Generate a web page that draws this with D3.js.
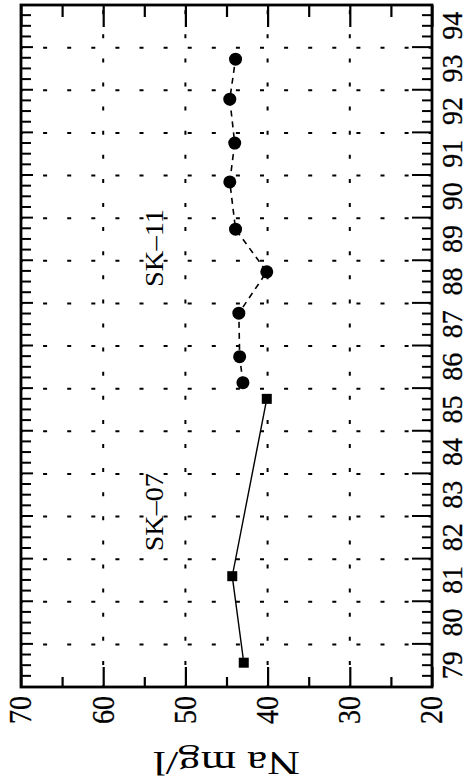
<!DOCTYPE html>
<html>
<head>
<meta charset="utf-8">
<script src="https://cdn.jsdelivr.net/npm/d3@7/dist/d3.min.js"></script>
<style>
  html, body { margin: 0; padding: 0; background: #fff; }
  svg { display: block; }
  text { font-family: "Liberation Serif", "DejaVu Serif", serif; fill: #000; }
</style>
</head>
<body>
<svg id="chart" width="472" height="781"></svg>
<script>
// Sodium in two wells, sampled by decimal year (19xx)
const sk07Years = [79.57, 81.60, 85.76];
const sk07Na    = [42.9, 44.3, 40.1];
const sk11Years = [86.14, 86.75, 87.77, 88.74, 89.74, 90.85, 91.76, 92.79, 93.73];
const sk11Na    = [43.0, 43.4, 43.5, 40.1, 43.9, 44.6, 44.0, 44.6, 43.9];

const yearLabels = ["79","80","81","82","83","84","85","86","87","88","89","90","91","92","93","94"];
const naTickValues = [20, 30, 40, 50, 60, 70];
const axisTitle = "Na mg/l";
const seriesNames = ["SK\u201307", "SK\u201311"];

// The page is laid out as an ordinary time chart and then turned a quarter
// turn counter-clockwise, so time runs up the page and Na runs right-to-left.
const svg = d3.select("#chart");
const g = svg.append("g").attr("transform", "translate(0,781) rotate(-90)");

const x = d3.scaleLinear().domain([79, 95]).range([94, 776]);
const y = d3.scaleLinear().domain([20, 70]).range([432, 21]);

const [x0, x1] = x.range();
const [yB, yT] = y.range();

// dotted grid
const dash = "4 20.1";
const grid = g.append("g").attr("stroke", "#000").attr("stroke-width", 2);
grid.selectAll("line.yr")
  .data(d3.range(80, 95))
  .join("line")
  .attr("x1", d => x(d)).attr("x2", d => x(d))
  .attr("y1", yT).attr("y2", yB)
  .attr("stroke-dasharray", dash)
  .attr("stroke-dashoffset", 2);
grid.selectAll("line.na")
  .data([30, 40, 50, 60])
  .join("line")
  .attr("x1", x0).attr("x2", x1)
  .attr("y1", d => y(d)).attr("y2", d => y(d))
  .attr("stroke-dasharray", dash)
  .attr("stroke-dashoffset", 2);

// Na axis (bottom of page) with labels
const naAxis = d3.axisLeft(y)
  .tickValues(d3.range(20, 71, 5))
  .tickSize(0)
  .tickPadding(9)
  .tickFormat(d => naTickValues.includes(d) ? String(d) : "");
const naG = g.append("g").attr("transform", `translate(${x0},0)`).call(naAxis);
naG.select(".domain").remove();
naG.selectAll(".tick line")
  .attr("x2", d => d % 10 === 0 ? 20 : 10)
  .attr("stroke", "#000").attr("stroke-width", 2.2);
naG.selectAll(".tick text")
  .attr("font-size", 31)
  .attr("font-family", "Liberation Serif")
  .attr("stroke", "#000").attr("stroke-width", 0.3)
  .attr("textLength", d => naTickValues.includes(d) ? 28 : null)
  .attr("lengthAdjust", "spacingAndGlyphs");

// Na ticks on the opposite side (top of page)
const naTop = d3.axisRight(y).tickValues(d3.range(20, 71, 5)).tickSize(0).tickFormat("");
const naTopG = g.append("g").attr("transform", `translate(${x1},0)`).call(naTop);
naTopG.select(".domain").remove();
naTopG.selectAll(".tick line")
  .attr("x2", d => d % 10 === 0 ? -22 : -12)
  .attr("stroke", "#000").attr("stroke-width", 2.2);

// year axis (right of page): quarter ticks, year labels mid-year
const quarters = d3.range(79.25, 95, 0.25);
const yrTicks = d3.axisBottom(x).tickValues(quarters).tickSize(0).tickFormat("");
const yrG = g.append("g").attr("transform", `translate(0,${yB})`).call(yrTicks);
yrG.select(".domain").remove();
yrG.selectAll(".tick line")
  .attr("y2", d => Number.isInteger(d) ? -20 : -10)
  .attr("stroke", "#000").attr("stroke-width", 2);

const yrLab = d3.axisBottom(x)
  .tickValues(yearLabels.map(s => +s + 0.5))
  .tickSize(0)
  .tickPadding(9)
  .tickFormat((d, i) => yearLabels[i]);
const yrLabG = g.append("g").attr("transform", `translate(0,${yB})`).call(yrLab);
yrLabG.select(".domain").remove();
yrLabG.selectAll(".tick text")
  .attr("font-size", 30)
  .attr("font-family", "Liberation Serif")
  .attr("stroke", "#000").attr("stroke-width", 0.3)
  .attr("textLength", 28)
  .attr("lengthAdjust", "spacingAndGlyphs");

// year ticks on the opposite side (left of page)
const yrTop = d3.axisTop(x).tickValues(quarters).tickSize(0).tickFormat("");
const yrTopG = g.append("g").attr("transform", `translate(0,${yT})`).call(yrTop);
yrTopG.select(".domain").remove();
yrTopG.selectAll(".tick line")
  .attr("y2", d => Number.isInteger(d) ? 12 : 10)
  .attr("stroke", "#000").attr("stroke-width", 2);

// frame
g.append("rect")
  .attr("x", x0).attr("y", yT)
  .attr("width", x1 - x0).attr("height", yB - yT)
  .attr("fill", "none").attr("stroke", "#000").attr("stroke-width", 2.8);

// axis title, upside down on the page
g.append("text")
  .attr("transform", `translate(29,${(yT + yB) / 2}) rotate(-90)`)
  .attr("text-anchor", "middle")
  .attr("font-size", 33)
  .attr("textLength", 147)
  .attr("lengthAdjust", "spacingAndGlyphs")
  .text(axisTitle);

// SK-07: solid line with squares
const sk07 = sk07Years.map((t, i) => [t, sk07Na[i]]);
const sk11 = sk11Years.map((t, i) => [t, sk11Na[i]]);
const line = d3.line().x(d => x(d[0])).y(d => y(d[1]));

g.append("path").datum(sk07)
  .attr("d", line).attr("fill", "none")
  .attr("stroke", "#000").attr("stroke-width", 1.4);
g.selectAll("rect.sq").data(sk07).join("rect")
  .attr("x", d => x(d[0]) - 5).attr("y", d => y(d[1]) - 5)
  .attr("width", 10).attr("height", 10).attr("fill", "#000");

// SK-11: dashed line with dots
g.append("path").datum(sk11)
  .attr("d", line).attr("fill", "none")
  .attr("stroke", "#000").attr("stroke-width", 1.6)
  .attr("stroke-dasharray", "6 5");
g.selectAll("circle.pt").data(sk11).join("circle")
  .attr("cx", d => x(d[0])).attr("cy", d => y(d[1]))
  .attr("r", 6.5).attr("fill", "#000");

// well names
g.append("text")
  .attr("x", x(83.1)).attr("y", y(52.7))
  .attr("text-anchor", "middle").attr("font-size", 26)
  .attr("textLength", 78).attr("lengthAdjust", "spacingAndGlyphs")
  .text(seriesNames[0]);
g.append("text")
  .attr("x", x(89.3)).attr("y", y(52.7))
  .attr("text-anchor", "middle").attr("font-size", 26)
  .attr("textLength", 78).attr("lengthAdjust", "spacingAndGlyphs")
  .text(seriesNames[1]);
</script>
</body>
</html>
